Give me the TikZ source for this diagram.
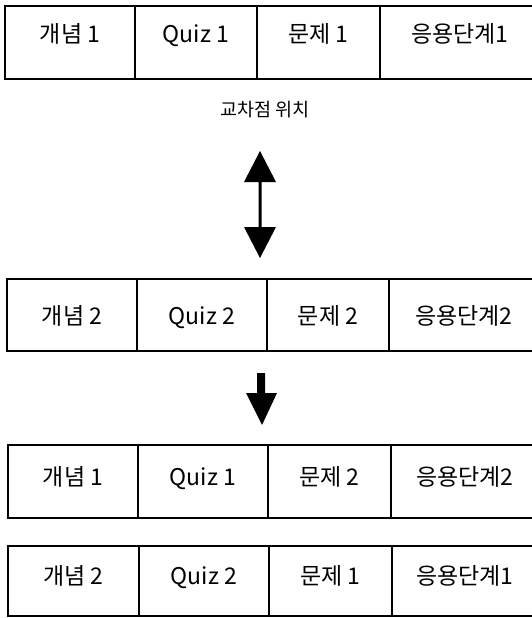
\documentclass[tikz,border=0pt]{standalone}
\usepackage{fontspec}
\setmainfont{Noto Sans CJK KR}
\newcommand\dn[2]{\raisebox{-#1pt}{#2}}
\begin{document}
\begin{tikzpicture}[x=1pt,y=-1pt,
  cell/.style={draw=black,line width=1.3pt,inner sep=0pt,outer sep=0pt,
    font=\fontsize{23}{26}\selectfont,text=black,text height=0.85em,text depth=0.15em},
  lbl/.style={font=\fontsize{18.5}{22}\selectfont,text=black},
  arrowshape/.style={fill=black,draw=none}]
\clip (0,0) rectangle (532,618);
\useasboundingbox (0,0) rectangle (532,618);
% Row 1
\node[cell,minimum width=130pt,minimum height=73pt] (a1) at (70,42.5) {\dn{-3}{개념 1}};
\node[cell,minimum width=122pt,minimum height=73pt] (a2) at (196,42.5) {\dn{-3}{Quiz 1}};
\node[cell,minimum width=123pt,minimum height=73pt] (a3) at (318.5,42.5) {\dn{-3}{문제 1}};
\node[cell,minimum width=160pt,minimum height=73pt] (a4) at (460,42.5) {\dn{-3}{응용단계1}};
\node[lbl] (lab) at (265,110) {교차점 위치};
% double arrow
\fill[arrowshape] (260,151) -- (276,182) -- (261.5,182) -- (261.5,227) -- (276,227)
  -- (260,258) -- (244,227) -- (258.5,227) -- (258.5,182) -- (244,182) -- cycle;
% Row 2
\node[cell,minimum width=130pt,minimum height=72pt] (b1) at (72,315) {\dn{6}{개념 2}};
\node[cell,minimum width=130pt,minimum height=72pt] (b2) at (202,315) {\dn{6}{Quiz 2}};
\node[cell,minimum width=122pt,minimum height=72pt] (b3) at (328,315) {\dn{6}{문제 2}};
\node[cell,minimum width=150pt,minimum height=72pt] (b4) at (464,315) {\dn{6}{응용단계2}};
% down arrow
\fill[arrowshape] (257,373) -- (265,373) -- (265,393) -- (277,393) -- (262,425)
  -- (246,393) -- (257,393) -- cycle;
% Row 3
\node[cell,minimum width=130pt,minimum height=73pt] (c1) at (73,481.5) {개념 1};
\node[cell,minimum width=130pt,minimum height=73pt] (c2) at (203,481.5) {Quiz 1};
\node[cell,minimum width=123pt,minimum height=73pt] (c3) at (329.5,481.5) {문제 2};
\node[cell,minimum width=148pt,minimum height=73pt] (c4) at (465,481.5) {응용단계2};
% Row 4
\node[cell,minimum width=131pt,minimum height=70pt] (d1) at (73.5,581) {개념 2};
\node[cell,minimum width=130pt,minimum height=70pt] (d2) at (204,581) {Quiz 2};
\node[cell,minimum width=123pt,minimum height=70pt] (d3) at (330.5,581) {문제 1};
\node[cell,minimum width=146pt,minimum height=70pt] (d4) at (465,581) {응용단계1};
\end{tikzpicture}
\end{document}
